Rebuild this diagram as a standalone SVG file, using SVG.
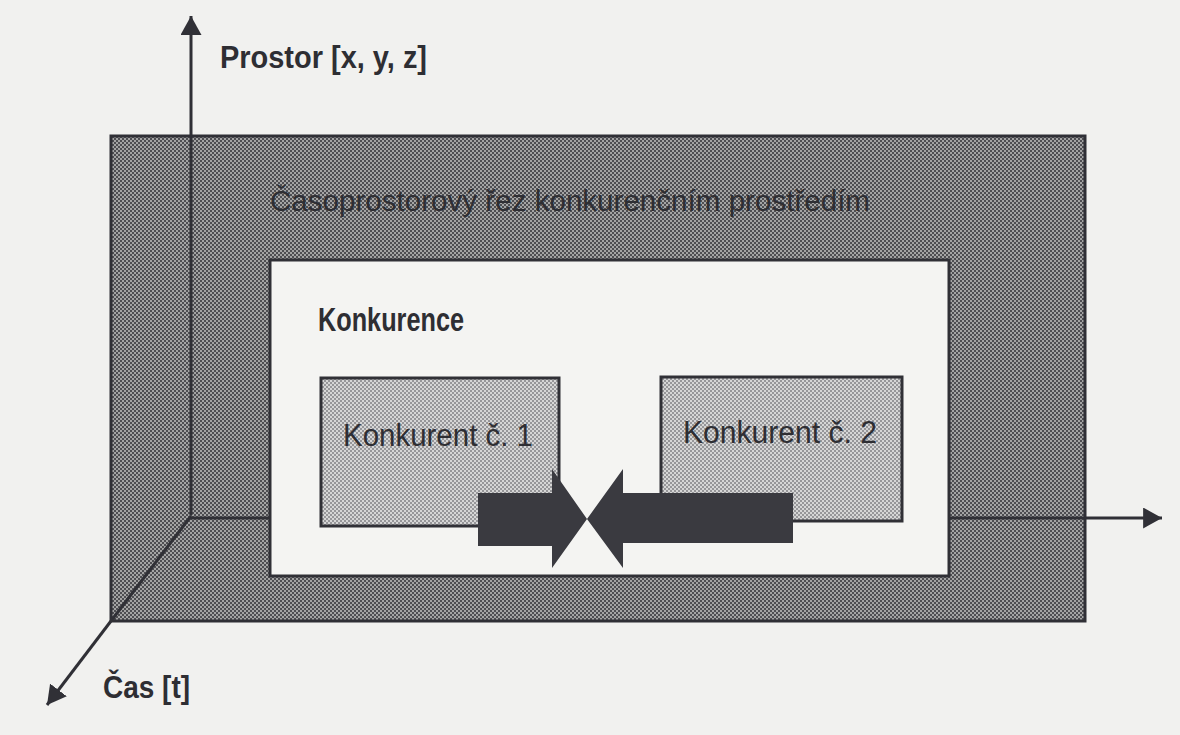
<svg xmlns="http://www.w3.org/2000/svg" width="1180" height="735" viewBox="0 0 1180 735">
  <style>
    .lbl { font-family: "Liberation Sans", Arial, sans-serif; fill: #2e2e33; }
    .bold { font-weight: bold; }
    .frame { stroke: #303036; stroke-width: 3; }
    .axis { stroke: #303036; stroke-width: 3; fill: none; }
    .clash { fill: #3a3a40; }
  </style>
  <defs>
    <pattern id="ht-dark" width="4" height="4" patternUnits="userSpaceOnUse">
      <rect width="4" height="4" fill="#a4a4a4"/>
      <rect width="2" height="2" fill="#4e4e52"/>
      <rect x="2" y="2" width="2" height="2" fill="#4e4e52"/>
    </pattern>
    <pattern id="ht-light" width="4" height="4" patternUnits="userSpaceOnUse">
      <rect width="4" height="4" fill="#d6d6d6"/>
      <rect width="2" height="2" fill="#969699"/>
      <rect x="2" y="2" width="2" height="2" fill="#969699"/>
    </pattern>
    <marker id="ah" viewBox="0 0 10 10" refX="9" refY="5" markerWidth="21" markerHeight="21" markerUnits="userSpaceOnUse" orient="auto">
      <path d="M0,0 L9,5 L0,10 z" fill="#303036"/>
    </marker>
  </defs>

  <rect width="1180" height="735" fill="#f1f1ef"/>

  <g id="outer-slice">
    <rect class="frame" x="111" y="136" width="974" height="485" fill="url(#ht-dark)"/>
    <text class="lbl" x="270" y="211" font-size="30" textLength="600" lengthAdjust="spacingAndGlyphs">Časoprostorový řez konkurenčním prostředím</text>
  </g>

  <g id="konkurence">
    <rect class="frame" x="270" y="260" width="679" height="316" fill="#f4f4f2"/>
    <text class="lbl bold" x="318" y="331" font-size="34" textLength="146" lengthAdjust="spacingAndGlyphs">Konkurence</text>
  </g>

  <g id="konkurent-1">
    <rect class="frame" x="321" y="378" width="238" height="148" fill="url(#ht-light)"/>
    <text class="lbl" x="343" y="446" font-size="31" textLength="190" lengthAdjust="spacingAndGlyphs">Konkurent č. 1</text>
  </g>

  <g id="konkurent-2">
    <rect class="frame" x="661" y="377" width="241" height="144" fill="url(#ht-light)"/>
    <text class="lbl" x="683" y="443" font-size="31" textLength="194" lengthAdjust="spacingAndGlyphs">Konkurent č. 2</text>
  </g>

  <g id="axis-labels">
    <text class="lbl bold" x="220" y="68" font-size="32" textLength="207" lengthAdjust="spacingAndGlyphs">Prostor [x, y, z]</text>
    <text class="lbl bold" x="103" y="698" font-size="31" textLength="87" lengthAdjust="spacingAndGlyphs">Čas [t]</text>
  </g>

  <g id="connectors">
    <!-- space axis -->
    <line class="axis" x1="191" y1="515" x2="191" y2="16" marker-end="url(#ah)"/>
    <!-- flow axis (hidden behind the inner frame) -->
    <line class="axis" x1="191" y1="518" x2="270" y2="518"/>
    <line class="axis" x1="949" y1="518" x2="1162" y2="518" marker-end="url(#ah)"/>
    <!-- time axis -->
    <line class="axis" x1="191" y1="516" x2="47" y2="705" marker-end="url(#ah)"/>
    <!-- clashing competitors -->
    <path class="clash" d="M478,493 L552,493 L552,469 L587,519 L552,568 L552,546 L478,546 Z"/>
    <path class="clash" d="M793,493 L623,493 L623,469 L587,519 L623,568 L623,543 L793,543 Z"/>
  </g>
</svg>
